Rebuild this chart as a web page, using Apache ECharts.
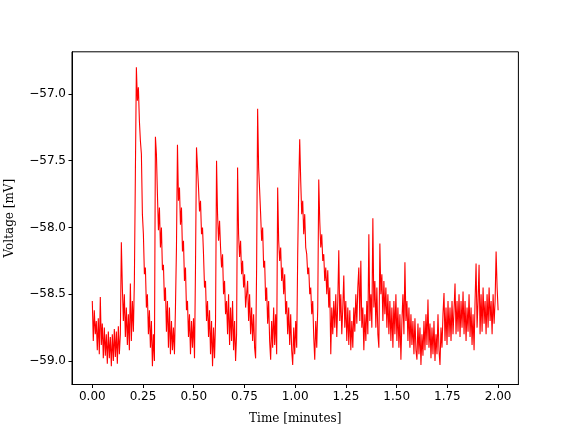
<!DOCTYPE html>
<html>
<head>
<meta charset="utf-8">
<script src="https://cdn.jsdelivr.net/npm/echarts@6/dist/echarts.min.js"></script>
<style>html,body{margin:0;padding:0;background:#fff;}#c{width:576px;height:432px;}</style>
</head>
<body>
<div id="c"></div>
<script>
// Sampled trace: voltage in mV, uniformly sampled from 0 to 2 minutes
const durationMin = 2.0;
const voltage = [
-58.55,-58.85,-58.62,-58.80,-58.70,-58.92,-58.68,-58.95,-58.52,-58.88,
-58.72,-58.98,-58.75,-58.96,-58.80,-59.02,-58.78,-58.98,-58.82,-59.04,
-58.80,-59.00,-58.76,-58.97,-58.78,-59.02,-58.74,-58.95,-58.80,-58.11,
-58.45,-58.70,-58.50,-58.82,-58.60,-58.88,-58.65,-58.92,-58.42,-58.85,
-58.55,-58.78,-58.40,-57.60,-56.80,-57.05,-56.95,-57.20,-57.35,-57.45,
-57.90,-58.05,-58.35,-58.30,-58.60,-58.50,-58.80,-58.62,-58.90,-58.70,
-59.04,-58.80,-59.00,-57.32,-57.45,-57.75,-58.02,-57.85,-58.15,-58.00,
-58.32,-58.28,-58.55,-58.45,-58.78,-58.55,-58.90,-58.60,-58.95,-58.70,
-58.92,-58.75,-58.95,-58.60,-58.15,-57.38,-57.80,-57.70,-57.98,-57.85,
-58.18,-58.10,-58.40,-58.30,-58.62,-58.55,-58.82,-58.65,-58.95,-58.70,
-58.90,-58.68,-58.98,-58.30,-57.40,-57.55,-57.70,-57.88,-57.80,-58.05,
-58.00,-58.20,-58.45,-58.40,-58.70,-58.55,-58.82,-58.62,-58.95,-58.70,
-59.04,-58.75,-58.98,-58.70,-57.50,-57.90,-58.10,-57.95,-58.15,-58.30,
-58.20,-58.50,-58.40,-58.65,-58.55,-58.80,-58.50,-58.88,-58.60,-58.85,
-58.55,-58.92,-58.70,-59.00,-58.80,-57.55,-58.05,-58.22,-58.10,-58.35,
-58.25,-58.45,-58.35,-58.60,-58.50,-58.40,-58.70,-58.50,-58.80,-58.60,
-58.85,-58.65,-58.90,-58.98,-58.30,-57.11,-57.55,-57.72,-57.90,-58.10,
-58.00,-58.30,-58.25,-58.55,-58.45,-58.72,-58.55,-58.85,-58.99,-58.70,
-58.90,-58.60,-58.88,-58.65,-58.95,-57.70,-58.10,-58.25,-58.15,-58.40,
-58.30,-58.50,-58.35,-58.65,-58.55,-58.80,-58.60,-58.88,-58.65,-58.92,
-59.03,-58.75,-58.95,-58.70,-58.90,-58.20,-57.70,-57.34,-57.65,-57.90,
-57.80,-58.05,-57.90,-58.15,-58.20,-58.35,-58.30,-58.50,-58.45,-58.65,
-58.55,-58.82,-58.99,-58.70,-58.90,-58.60,-57.64,-57.95,-58.15,-58.05,
-58.25,-58.20,-58.40,-58.30,-58.50,-58.32,-58.60,-58.45,-58.95,-58.60,
-58.80,-58.55,-58.75,-58.50,-58.82,-58.55,-58.17,-58.70,-58.50,-58.80,
-58.60,-58.36,-58.75,-58.55,-58.85,-58.60,-58.88,-58.62,-58.92,-58.70,
-58.90,-58.60,-58.78,-58.50,-58.72,-58.45,-58.30,-58.70,-58.25,-58.75,
-58.60,-58.92,-58.65,-58.85,-58.55,-58.80,-58.05,-58.70,-58.50,-58.75,
-57.93,-58.60,-58.40,-58.75,-58.45,-58.80,-58.90,-58.12,-58.50,-58.35,
-58.70,-58.40,-58.65,-58.45,-58.75,-58.50,-58.80,-58.55,-58.85,-58.60,
-58.90,-58.55,-58.80,-58.50,-58.85,-58.60,-58.90,-58.65,-58.99,-58.70,
-58.50,-58.80,-58.26,-58.70,-58.55,-58.85,-58.60,-58.90,-58.65,-58.88,
-58.70,-58.95,-58.68,-58.92,-58.99,-58.72,-58.95,-58.75,-59.03,-58.80,
-58.96,-58.70,-58.92,-58.65,-58.88,-58.54,-58.90,-58.72,-58.98,-58.75,
-58.95,-58.70,-59.00,-58.80,-58.95,-58.65,-58.92,-59.03,-58.75,-58.90,
-58.65,-58.49,-58.85,-58.60,-58.88,-58.55,-58.82,-58.60,-58.85,-58.55,
-58.80,-58.62,-58.42,-58.80,-58.55,-58.78,-58.50,-58.82,-58.55,-58.75,
-58.48,-58.80,-58.55,-58.85,-58.60,-58.78,-58.50,-58.82,-58.60,-58.88,
-58.65,-58.92,-58.55,-58.27,-58.75,-58.55,-58.28,-58.80,-58.50,-58.78,
-58.45,-58.72,-58.55,-58.80,-58.50,-58.75,-58.45,-58.70,-58.55,-58.80,
-58.50,-58.72,-58.55,-58.18,-58.45,-58.62
];
const xTicks = [0, 0.25, 0.5, 0.75, 1.0, 1.25, 1.5, 1.75, 2.0];
const yTicks = [-59.0, -58.5, -58.0, -57.5, -57.0];
const xTitle = 'Time [minutes]';
const yTitle = 'Voltage [mV]';

const step = durationMin / (voltage.length - 1);
const seriesData = voltage.map((v, i) => [i * step, v]);

const chart = echarts.init(document.getElementById('c'), null, {renderer: 'canvas'});
const tickFont = {fontFamily: 'DejaVu Sans', fontSize: 12, color: '#000'};
chart.setOption({
  animation: false,
  backgroundColor: '#fff',
  grid: {left: 72, right: 57.6, top: 51.8, bottom: 47.5, containLabel: false, outerBoundsMode: 'none',
         show: true, borderColor: '#000', borderWidth: 1, backgroundColor: 'transparent'},
  xAxis: {
    type: 'value', min: -0.1, max: 2.1,
    name: xTitle, nameLocation: 'middle', nameGap: 28,
    nameTextStyle: {fontFamily: 'DejaVu Serif', fontSize: 12, color: '#000'},
    axisLine: {show: true, onZero: false, lineStyle: {color: '#000', width: 1}},
    axisTick: {show: true, inside: false, length: 3.5, lineStyle: {color: '#000'}, customValues: xTicks},
    axisLabel: Object.assign({margin: 6, customValues: xTicks, formatter: v => v.toFixed(2)}, tickFont),
    splitLine: {show: false}
  },
  yAxis: {
    type: 'value', min: -59.176, max: -56.684,
    name: yTitle, nameLocation: 'middle', nameGap: 56,
    nameTextStyle: {fontFamily: 'DejaVu Serif', fontSize: 12, color: '#000'},
    axisLine: {show: true, onZero: false, lineStyle: {color: '#000', width: 1}},
    axisTick: {show: true, inside: false, length: 3.5, lineStyle: {color: '#000'}, customValues: yTicks},
    axisLabel: Object.assign({margin: 6, customValues: yTicks, formatter: v => v.toFixed(1).replace('-', '\u2212')}, tickFont),
    splitLine: {show: false}
  },
  series: [{
    type: 'line', data: seriesData, showSymbol: false, symbol: 'none',
    lineStyle: {color: '#ff0000', width: 1.1}, clip: true, silent: true
  }]
});
</script>
</body>
</html>
